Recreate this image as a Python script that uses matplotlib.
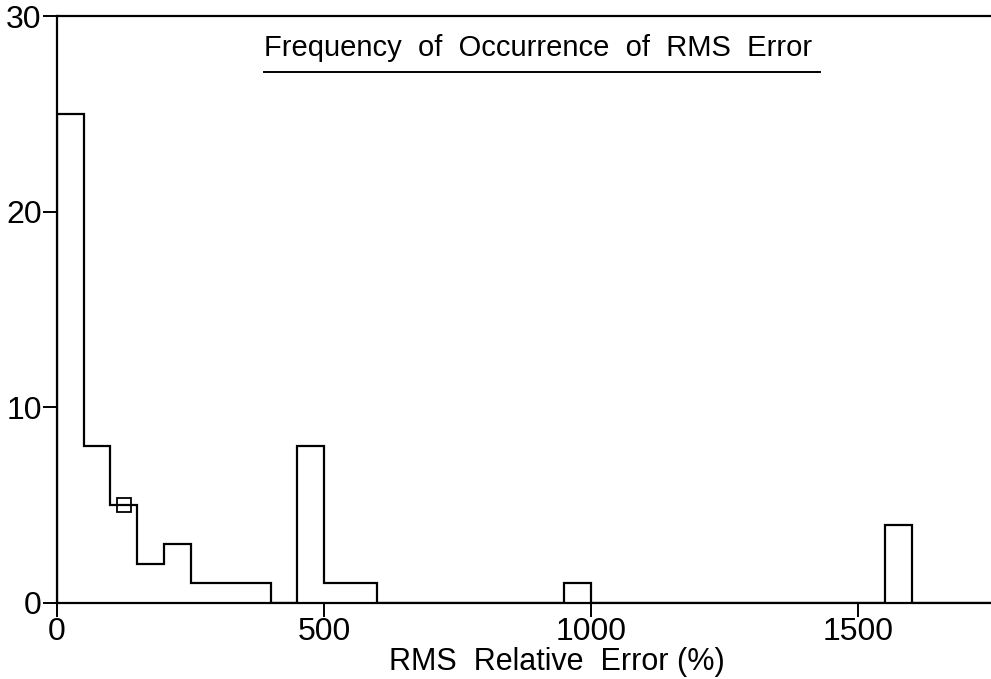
import numpy as np
import matplotlib
matplotlib.use("Agg")
import matplotlib.pyplot as plt

plt.rcParams['font.family'] = ['Liberation Sans', 'DejaVu Sans']

# histogram of RMS relative error, bins of 50 %
bin_width = 50
bin_left = [0, 50, 100, 150, 200, 250, 300, 350, 450, 500, 550, 950, 1550]
counts = [25, 8, 5, 2, 3, 1, 1, 1, 8, 1, 1, 1, 4]
marker_x = [125]
marker_y = [5]
x_ticks = [0, 500, 1000, 1500]
y_ticks = [0, 10, 20, 30]

edges = np.arange(0, 1750 + bin_width, bin_width)
values = np.zeros(len(edges) - 1)
for left, c in zip(bin_left, counts):
    values[left // bin_width] = c

fig = plt.figure(figsize=(9.91, 6.79), dpi=100)
ax = fig.add_axes([57 / 991, 76 / 679, 940 / 991, 587 / 679])

ax.stairs(values, edges, fill=False, color='black', linewidth=1.6, baseline=0)
ax.plot(marker_x, marker_y, marker='s', markersize=9.5, markerfacecolor='none',
        markeredgecolor='black', markeredgewidth=1.3, linestyle='none')

ax.set_xlim(0, 1760)
ax.set_ylim(0, 30)
ax.set_xticks(x_ticks)
ax.set_yticks(y_ticks)
ax.tick_params(axis='both', direction='out', length=10, width=1.4, labelsize=23, colors='black')
ax.tick_params(axis='x', pad=0)
ax.tick_params(axis='y', pad=1)
for s in ['left', 'bottom', 'top']:
    ax.spines[s].set_linewidth(1.6)
ax.spines['right'].set_visible(False)

ax.set_xlabel('RMS  Relative  Error (%)', fontsize=22)
ax.xaxis.set_label_coords(0.532, -0.075)

ax.text(0.22, 0.945, 'Frequency  of  Occurrence  of  RMS  Error', transform=ax.transAxes,
        fontsize=21, ha='left', va='center')
ax.plot([0.22, 0.812], [0.905, 0.905], transform=ax.transAxes, color='black', linewidth=1.4)

fig.savefig('out.png', dpi=100)
